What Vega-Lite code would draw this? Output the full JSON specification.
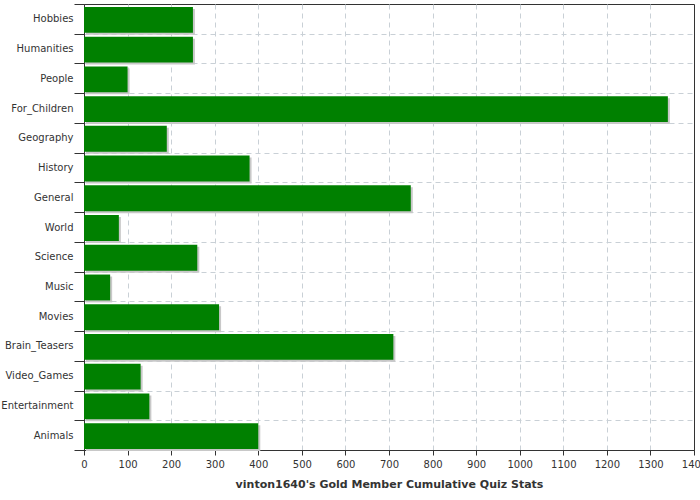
{
  "$schema": "https://vega.github.io/schema/vega-lite/v6.json",
  "width": 610,
  "height": 446,
  "autosize": "none",
  "padding": {"left": 84, "top": 4, "right": 6, "bottom": 50},
  "background": "white",
  "config": {
    "view": {"stroke": "#333333", "strokeWidth": 1},
    "axis": {
      "labelFont": "DejaVu Sans",
      "labelFontSize": 10,
      "labelColor": "#333333",
      "domainColor": "#333333",
      "tickColor": "#333333",
      "gridColor": "#c9d0d6",
      "gridDash": [5, 4],
      "gridWidth": 1,
      "titleFont": "DejaVu Sans",
      "titleFontSize": 11,
      "titleFontWeight": "bold",
      "titleColor": "#333333"
    }
  },
  "data": {
    "values": [
      {"category": "Hobbies", "value": 250},
      {"category": "Humanities", "value": 250},
      {"category": "People", "value": 100},
      {"category": "For_Children", "value": 1340},
      {"category": "Geography", "value": 190},
      {"category": "History", "value": 380},
      {"category": "General", "value": 750},
      {"category": "World", "value": 80},
      {"category": "Science", "value": 260},
      {"category": "Music", "value": 60},
      {"category": "Movies", "value": 310},
      {"category": "Brain_Teasers", "value": 710},
      {"category": "Video_Games", "value": 130},
      {"category": "Entertainment", "value": 150},
      {"category": "Animals", "value": 400}
    ]
  },
  "encoding": {
    "y": {
      "field": "category",
      "type": "nominal",
      "sort": null,
      "scale": {"paddingInner": 0, "paddingOuter": 0},
      "axis": {
        "title": null,
        "tickBand": "extent",
        "tickSize": 10,
        "labelPadding": 1,
        "grid": true,
        "gridOpacity": {"condition": {"test": "datum.extra || datum.value === 'Animals'", "value": 0}, "value": 1}
      }
    },
    "x": {
      "field": "value",
      "type": "quantitative",
      "scale": {"domain": [0, 1400], "nice": false},
      "axis": {
        "values": [0, 100, 200, 300, 400, 500, 600, 700, 800, 900, 1000, 1100, 1200, 1300, 1400],
        "format": "d",
        "title": "vinton1640's Gold Member Cumulative Quiz Stats",
        "tickSize": 5,
        "labelPadding": 4,
        "titlePadding": 9,
        "grid": true,
        "gridOpacity": {"condition": {"test": "datum.value === 0 || datum.value === 1400", "value": 0}, "value": 1},
        "labelFlush": false
      }
    }
  },
  "layer": [
    {"mark": {"type": "bar", "color": "#c8c8c8", "height": {"band": 0.87}, "xOffset": 2, "yOffset": 3}},
    {"mark": {"type": "bar", "color": "#008000", "height": {"band": 0.87}, "yOffset": 1}}
  ]
}
